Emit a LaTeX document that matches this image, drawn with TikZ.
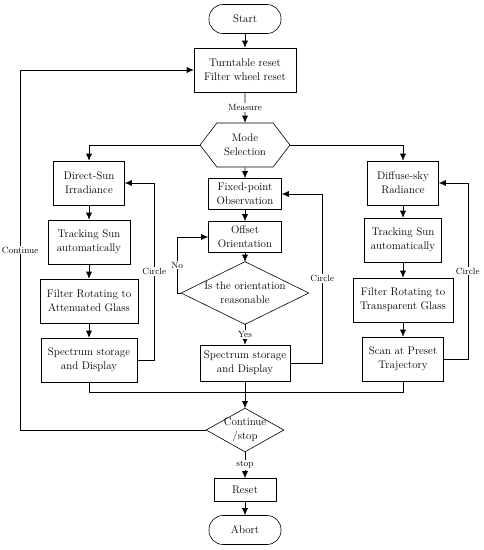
\documentclass[tikz,border=0pt]{standalone}
\usepackage{tikz}
\usetikzlibrary{positioning, shapes.symbols, arrows.meta}

\begin{document}
\begin{tikzpicture}[-{Latex[length=7pt,width=6pt]}, x=1pt, y=-1pt, semithick,
font=\fontsize{11}{14}\selectfont,
box/.style={rectangle, draw, align=center, inner sep=2pt, minimum height=44pt},
term/.style={rectangle, rounded corners=14pt, draw, minimum width=72pt, minimum height=29pt},
decision/.style={rectangle, align=center, inner sep=0pt},
hexa/.style={signal, signal to=west and east, signal pointer angle=105, draw,
align=center, inner sep=0pt, minimum width=90pt, minimum height=44pt},
lbl/.style={fill=white, inner sep=1pt, font=\fontsize{9}{10}\selectfont}]
  \useasboundingbox (0,0) rectangle (484,550);
  % start
  \node[term] (start) at (245,19) {Start};
  \node[box, minimum width=102pt] (reset) at (245,70) {Turntable reset\\Filter wheel reset};
  \node[hexa] (mode) at (245,145) {Mode\\Selection};
  % direct sun
  \node[box, minimum width=71pt] (ds1) at (89,183) {Direct-Sun\\Irradiance};
  \node[box, minimum width=82pt] (ds2) at (89,242) {Tracking Sun\\automatically};
  \node[box, minimum width=98pt] (ds3) at (89,301) {Filter Rotating to\\Attenuated Glass};
  \node[box, minimum width=96pt] (ds4) at (89,360) {Spectrum storage\\and Display};
  % fixed point
  \node[box, minimum width=73pt, minimum height=31pt] (fp1) at (245,194) {Fixed-point\\Observation};
  \node[box, minimum width=73pt, minimum height=31pt] (fp2) at (245,237) {Offset\\Orientation};
  \node[decision, minimum width=127pt, minimum height=62pt] (fp3) at (245,293) {Is the orientation\\reasonable};
  \node[box, minimum width=90pt, minimum height=36pt] (fp4) at (245,363) {Spectrum storage\\and Display};
  % diffuse sky
  \node[box, minimum width=71pt] (sk1) at (403,183) {Diffuse-sky\\Radiance};
  \node[box, minimum width=77pt] (sk2) at (403,240) {Tracking Sun\\automatically};
  \node[box, minimum width=100pt] (sk3) at (403,300) {Filter Rotating to\\Transparent Glass};
  \node[box, minimum width=81pt] (sk4) at (403,359) {Scan at Preset\\Trajectory};
  % end
  \coordinate (join) at (245,392);
  \node[decision, minimum width=77pt, minimum height=43pt] (cont) at (245,430) {Continue\\/stop};
  \node[box, minimum width=62pt, minimum height=23pt] (rst) at (245,490) {Reset};
  \node[term] (abort) at (245,530) {Abort};

  \draw[-] (fp3.north) -- (fp3.east) -- (fp3.south) -- (fp3.west) -- cycle;
  \draw[-] (cont.north) -- (cont.east) -- (cont.south) -- (cont.west) -- cycle;

\foreach \from/\to in {start/reset, mode/fp1, ds1/ds2, ds2/ds3, ds3/ds4, fp1/fp2,
    fp2/fp3, sk1/sk2, sk2/sk3, sk3/sk4, fp4/cont, rst/abort}
    \draw (\from) -- (\to);

  \draw (reset) -- node[lbl] {Measure} (mode);
  \draw (mode) -| (ds1);
  \draw (mode) -| (sk1);
  \draw (fp3) -- node[lbl] {Yes} (fp4);
  \draw (cont) -- node[lbl] {stop} (rst);
  % loops
  \draw (ds4.east) -- ++(17,0) |- node[lbl, pos=0.25] {Circle} (ds1);
  \draw (fp4.east) -- ++(32,0) |- node[lbl, pos=0.25] {Circle} (fp1);
  \draw (sk4.east) -- ++(24,0) |- node[lbl, pos=0.25] {Circle} (sk1);
  \draw (fp3.west) -- ++(-4,0) |- node[lbl, pos=0.25] {No} (fp2);
  \draw (cont.west) -- ++(-186,0) |- node[lbl, pos=0.25] {Continue} (reset);
  \draw[-] (ds4) -- (ds4 |- join) -- (sk4 |- join) -- (sk4);
\end{tikzpicture}
\end{document}
